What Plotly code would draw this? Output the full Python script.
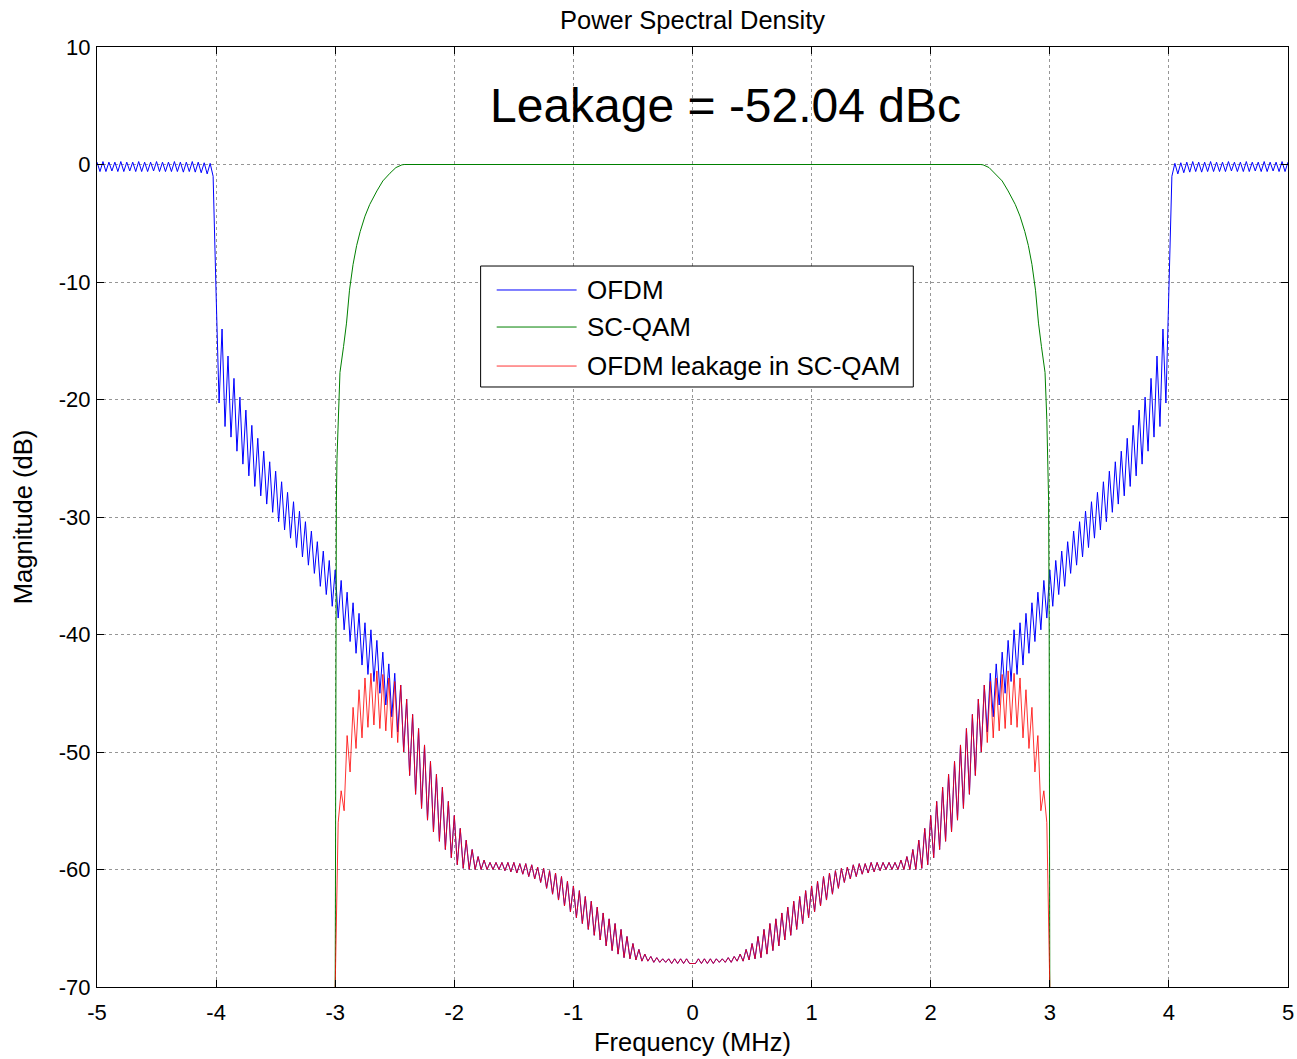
import numpy as np
import plotly.graph_objects as go

# ---------------- data ----------------
# OFDM PSD (dB), left half; ripple: one peak + one trough every 0.05 MHz
RIPPLE_X0 = -5.0
RIPPLE_STEP = 0.05

# peaks at -5.00, -4.95, ..., -0.05 MHz
ofdm_peak_db = [
    0.2, 0.25, 0.2, 0.2, 0.25, 0.2, 0.2, 0.25, 0.2, 0.2,
    0.25, 0.2, 0.2, 0.25, 0.2, 0.2, 0.25, 0.2, 0.15, 0.1,
    -11.0, -14.0, -16.3, -18.2, -19.8, -20.9, -22.2, -23.3, -24.4, -25.3,
    -26.1, -27.0, -27.9, -28.7, -29.5, -30.4, -31.2, -32.1, -32.9, -33.7,
    -34.5, -35.4, -36.4, -37.3, -38.2, -39.0, -39.6, -40.5, -41.5, -42.5,
    -43.3, -44.3, -45.5, -46.8, -48.0, -49.4, -50.8, -51.9, -53.0, -54.2,
    -55.4, -56.5, -57.5, -58.3, -58.9, -59.2, -59.4, -59.4, -59.4, -59.4,
    -59.4, -59.5, -59.5, -59.6, -59.8, -59.9, -60.1, -60.3, -60.6, -61.0,
    -61.4, -61.8, -62.3, -62.7, -63.2, -63.7, -64.2, -64.6, -65.1, -65.7,
    -66.3, -66.8, -67.2, -67.4, -67.5, -67.6, -67.6, -67.6, -67.6, -67.6,
]
# troughs at -4.975, -4.925, ..., -0.025 MHz
ofdm_trough_db = [
    -0.6, -0.6, -0.55, -0.6, -0.6, -0.55, -0.6, -0.6, -0.6, -0.55,
    -0.6, -0.6, -0.6, -0.6, -0.65, -0.6, -0.65, -0.7, -0.8, -1.0,
    -20.3, -22.3, -23.2, -24.4, -25.5, -26.5, -27.4, -28.2, -28.9, -29.6,
    -30.4, -31.1, -31.8, -32.6, -33.4, -34.1, -34.8, -35.9, -36.6, -37.6,
    -38.6, -39.6, -40.6, -41.6, -42.6, -43.4, -44.0, -45.0, -46.0, -47.0,
    -48.3, -50.0, -52.0, -53.6, -54.8, -55.8, -56.8, -57.6, -58.3, -59.0,
    -59.6, -59.9, -60.0, -60.0, -60.0, -60.0, -60.0, -60.0, -60.1, -60.2,
    -60.3, -60.4, -60.6, -60.8, -61.1, -61.6, -62.1, -62.6, -63.1, -63.6,
    -64.1, -64.6, -65.1, -65.6, -66.0, -66.5, -66.9, -67.2, -67.5, -67.6,
    -67.7, -67.8, -67.8, -67.9, -67.9, -67.9, -68.0, -68.0, -68.0, -68.0,
]

# OFDM leakage in SC-QAM at the filter edge (left), peaks at -3.00..-2.50, troughs at -2.975..-2.475
LEAK_EDGE_X0 = -3.0
leak_edge_peak_db = [-70.0, -53.3, -48.6, -46.2, -44.7, -43.7, -43.3, -43.1, -43.4, -43.7, -44.0]
leak_edge_trough_db = [-56.0, -55.0, -51.7, -49.7, -48.8, -47.9, -47.7, -48.0, -48.2, -48.8, -49.2]
LEAK_INNER_EDGE = -2.45

# SC-QAM filter response, left edge (MHz, dB); flat 0 dB in between
scqam_edge_mhz = [-3.0, -2.995, -2.99, -2.985, -2.975, -2.96, -2.93, -2.905, -2.88, -2.85,
                  -2.82, -2.79, -2.75, -2.71, -2.65, -2.60, -2.54, -2.49, -2.44, -2.42]
scqam_edge_db = [-70.0, -40.0, -28.6, -25.0, -21.7, -17.7, -15.5, -13.5, -10.7, -8.5,
                 -6.9, -5.7, -4.4, -3.4, -2.25, -1.4, -0.74, -0.26, -0.03, 0.0]

x_ticks = [-5, -4, -3, -2, -1, 0, 1, 2, 3, 4, 5]
x_tick_labels = ["-5", "-4", "-3", "-2", "-1", "0", "1", "2", "3", "4", "5"]
y_ticks = [-70, -60, -50, -40, -30, -20, -10, 0, 10]
y_tick_labels = ["-70", "-60", "-50", "-40", "-30", "-20", "-10", "0", "10"]

series_names = ["OFDM", "SC-QAM", "OFDM leakage in SC-QAM"]
leakage_text = "Leakage = -52.04 dBc"


# ---------------- build the symmetric spectra ----------------
def interleave(peaks, troughs, x0, step):
    n = len(peaks)
    xp = x0 + step * np.arange(n)
    xt = xp + step / 2
    x = np.empty(2 * n)
    y = np.empty(2 * n)
    x[0::2], x[1::2] = xp, xt
    y[0::2], y[1::2] = peaks, troughs
    return x, y


def mirror(x, y):
    return np.concatenate([x, -x[::-1]]), np.concatenate([y, y[::-1]])


ofdm_lx, ofdm_ly = interleave(ofdm_peak_db, ofdm_trough_db, RIPPLE_X0, RIPPLE_STEP)
ofdm_x, ofdm_y = mirror(ofdm_lx, ofdm_ly)

edge_x, edge_y = interleave(leak_edge_peak_db, leak_edge_trough_db, LEAK_EDGE_X0, RIPPLE_STEP)
inner = ofdm_lx >= LEAK_INNER_EDGE - 1e-9
leak_x, leak_y = mirror(np.concatenate([edge_x, ofdm_lx[inner]]),
                        np.concatenate([edge_y, ofdm_ly[inner]]))

sc_x, sc_y = mirror(np.array(scqam_edge_mhz), np.array(scqam_edge_db))

colors = ["rgb(0,0,255)", "rgb(0,128,0)", "rgba(255,0,0,0.8)"]
FONT = "Liberation Sans, Arial, sans-serif"
TICK_SIZE = 22
TEXT_SIZE = 25.5
LEGEND_SIZE = 26

fig = go.Figure()
for name, xs, ys, c in zip(series_names, [ofdm_x, sc_x, leak_x], [ofdm_y, sc_y, leak_y], colors):
    fig.add_trace(go.Scatter(x=xs, y=ys, mode="lines", name=name,
                             line=dict(color=c, width=1), showlegend=False))

axis_common = dict(
    showline=True, linecolor="black", linewidth=1, mirror="allticks",
    ticks="inside", ticklen=7, tickcolor="black", tickwidth=1,
    showgrid=True, gridcolor="rgb(150,150,150)", griddash="dot", gridwidth=1,
    zeroline=False, automargin=False,
    tickfont=dict(family=FONT, size=TICK_SIZE, color="black"),
)
fig.update_xaxes(range=[-5, 5], tickvals=x_ticks, ticktext=x_tick_labels,
                 ticklabelstandoff=6,
                 title=dict(text="Frequency (MHz)", font=dict(family=FONT, size=TEXT_SIZE, color="black"),
                            standoff=8),
                 **axis_common)
fig.update_yaxes(range=[-70, 10], tickvals=y_ticks, ticktext=y_tick_labels,
                 ticklabelstandoff=1,
                 title=dict(text="Magnitude (dB)", font=dict(family=FONT, size=TEXT_SIZE, color="black"),
                            standoff=18),
                 **axis_common)

# manual MATLAB-style legend
leg_x0, leg_x1, leg_y0, leg_y1 = 0.3221, 0.6854, 0.6383, 0.7670
line_x0, line_x1, text_x = 0.3356, 0.4027, 0.4094
row_y = [0.7415, 0.7021, 0.6606]
shapes = [dict(type="rect", xref="paper", yref="paper", x0=leg_x0, x1=leg_x1, y0=leg_y0, y1=leg_y1,
               line=dict(color="black", width=1), fillcolor="white", layer="above")]
annotations = []
for name, c, ry in zip(series_names, colors, row_y):
    shapes.append(dict(type="line", xref="paper", yref="paper", x0=line_x0, x1=line_x1, y0=ry, y1=ry,
                       line=dict(color=c, width=1), layer="above"))
    annotations.append(dict(xref="paper", yref="paper", x=text_x, y=ry, text=name, showarrow=False,
                            xanchor="left", yanchor="middle",
                            font=dict(family=FONT, size=LEGEND_SIZE, color="black")))
annotations.append(dict(x=-1.72, y=5.0, xref="x", yref="y", text=leakage_text, showarrow=False,
                        xanchor="left", yanchor="middle",
                        font=dict(family=FONT, size=48, color="black")))

fig.update_layout(
    width=1297, height=1059,
    margin=dict(l=97, r=9, t=47, b=72),
    paper_bgcolor="white", plot_bgcolor="white",
    title=dict(text="Power Spectral Density", x=0.5, xref="paper", y=1 - 20 / 1059, yref="container",
               xanchor="center", yanchor="middle", font=dict(family=FONT, size=TEXT_SIZE, color="black")),
    shapes=shapes, annotations=annotations,
)

fig.write_html("out.html", config={"displayModeBar": False},
               post_script="document.body.style.margin='0';")
